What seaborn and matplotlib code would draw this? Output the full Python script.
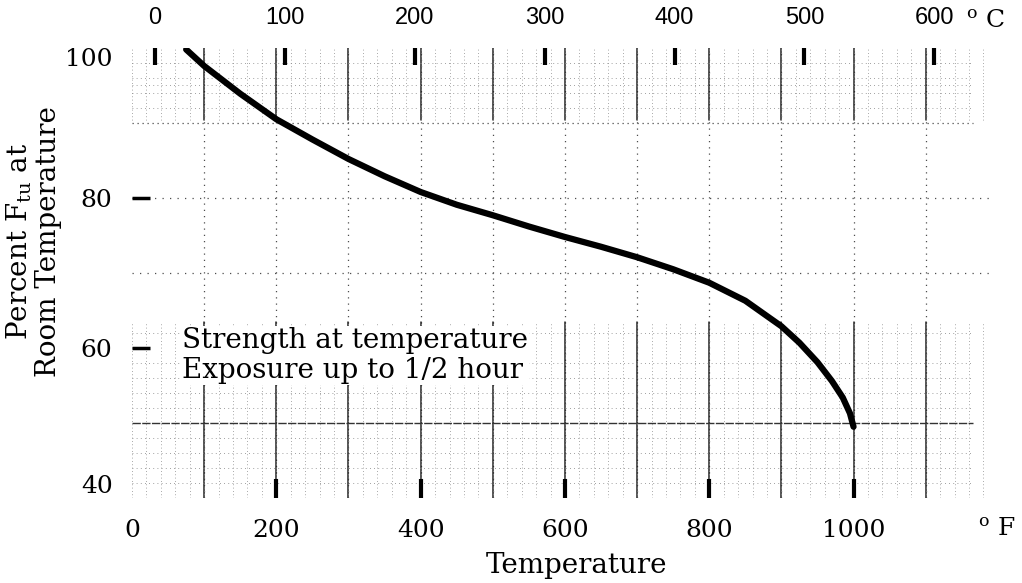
import numpy as np
import matplotlib.pyplot as plt
import seaborn as sns

# strength curve (deg F vs percent of room-temperature Ftu)
temp_f = [75, 100, 150, 200, 250, 300, 350, 400, 450, 500, 550, 600,
          650, 700, 750, 800, 850, 900, 925, 950, 970, 985, 995, 1000]
pct_ftu = [99.8, 97.6, 93.9, 90.5, 87.8, 85.2, 82.9, 80.8, 79.1, 77.7, 76.2, 74.8,
           73.5, 72.1, 70.5, 68.7, 66.3, 62.9, 60.7, 58.1, 55.6, 53.4, 51.3, 49.5]

f_ticks = [0, 200, 400, 600, 800, 1000]
c_ticks = [0, 100, 200, 300, 400, 500, 600]
pct_ticks = [40, 60, 80, 100]


def f_to_c(f):
    return (np.asarray(f) - 32.0) / 1.8


def c_to_f(c):
    return np.asarray(c) * 1.8 + 32.0


sns.set_theme(style="white")
plt.rcParams["font.family"] = ["DejaVu Serif"]
plt.rcParams["mathtext.fontset"] = "dejavuserif"
for key in ["text.color", "axes.labelcolor", "xtick.color", "ytick.color"]:
    plt.rcParams[key] = "black"

fig = plt.figure(figsize=(10.22, 5.83), dpi=100)
ax = fig.add_axes([0.1292, 0.1458, 0.8401, 0.7719])
ax.set_xlim(0, 1190)
ax.set_ylim(40, 100)

# graph-paper look: dotted grid everywhere, denser bands top and bottom
for f in np.arange(100, 1200, 100):
    ax.axvline(f, color="0.3", lw=0.9, ls=(0, (1, 4)), zorder=0)
    ax.axvline(f, ymin=0.0, ymax=0.39, color="0.15", lw=1.1, zorder=0)
    ax.axvline(f, ymin=0.84, ymax=1.0, color="0.15", lw=1.1, zorder=0)
for f in np.arange(0, 1200, 20):
    ax.axvline(f, ymin=0.0, ymax=0.39, color="0.55", lw=0.6, ls=(0, (1, 3)), zorder=0)
    ax.axvline(f, ymin=0.84, ymax=1.0, color="0.55", lw=0.6, ls=(0, (1, 3)), zorder=0)
for p in [70, 80]:
    ax.axhline(p, color="0.3", lw=0.9, ls=(0, (1, 5)), zorder=0)
for p in [42, 44, 46, 48, 52, 54, 56, 58, 62, 92, 94, 95, 96, 98]:
    ax.axhline(p, xmax=0.98, color="0.5", lw=0.6, ls=(0, (1, 4)), zorder=0)
ax.axhline(50, xmax=0.98, color="0.2", lw=1.0, ls=(0, (6, 1)), zorder=0)
ax.axhline(90, xmax=0.98, color="0.3", lw=0.9, ls=(0, (1, 3)), zorder=0)

sns.lineplot(x=temp_f, y=pct_ftu, ax=ax, color="black", lw=4.5, zorder=3,
             solid_joinstyle="round", solid_capstyle="round")

for side in ["top", "right", "left", "bottom"]:
    ax.spines[side].set_visible(False)

ax.set_xticks(f_ticks)
ax.set_yticks(pct_ticks)
ax.tick_params(axis="x", direction="in", length=14, width=3,
               labelsize=18, pad=15, bottom=True)
ax.tick_params(axis="y", direction="in", length=13, width=2.5,
               labelsize=18, pad=14, left=True)
ax.xaxis.get_major_ticks()[0].tick1line.set_visible(False)
ax.yaxis.get_major_ticks()[0].tick1line.set_visible(False)
ax.yaxis.get_major_ticks()[-1].tick1line.set_visible(False)
ylabels = ax.get_yticklabels()
ylabels[0].set_verticalalignment("bottom")
ylabels[-1].set_verticalalignment("top")

secax = ax.secondary_xaxis("top", functions=(f_to_c, c_to_f))
secax.set_xticks(c_ticks)
secax.spines["top"].set_visible(False)
secax.tick_params(axis="x", direction="in", length=12, width=3, pad=14)
for lbl in secax.get_xticklabels():
    lbl.set_fontfamily("Liberation Sans")
    lbl.set_fontsize(17)

fig.text(966 / 1022, 1 - 21 / 583, r"$^{\rm o}$ C", fontsize=18, ha="left", va="center")
fig.text(978 / 1022, 1 - 529 / 583, r"$^{\rm o}$ F", fontsize=18, ha="left", va="center")

ax.set_xlabel("Temperature", fontsize=20)
ax.xaxis.set_label_coords(0.518, -0.12)
ax.xaxis.label.set_verticalalignment("top")
ax.set_ylabel("Percent F$_{\\rm tu}$ at\nRoom Temperature", fontsize=20, linespacing=1.05)
ax.yaxis.set_label_coords(-0.082, 0.57)

ax.text(69, 59.0, "Strength at temperature\nExposure up to 1/2 hour", fontsize=20,
        ha="left", va="center", linespacing=1.1, zorder=4,
        bbox=dict(facecolor="white", edgecolor="none", pad=1))

fig.savefig("out.png", dpi=100)
